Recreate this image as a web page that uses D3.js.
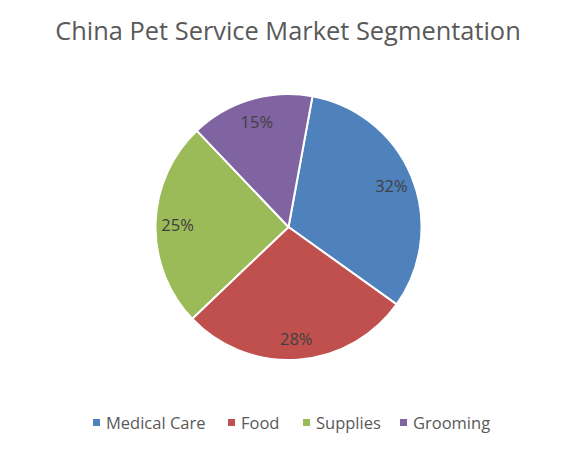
<!DOCTYPE html>
<html><head><meta charset="utf-8">
<script src="https://cdn.jsdelivr.net/npm/d3@7"></script>
<style>body{margin:0;background:#fff;} text{font-family:"Open Sans",sans-serif;}</style>
</head><body>
<svg id="c" width="577" height="452"></svg>
<script>
const categories = ["Medical Care", "Food", "Supplies", "Grooming"];
const values = [32, 28, 25, 15];
const colors = ["#4F81BD", "#C0504D", "#9BBB59", "#8064A2"];
const title = "China Pet Service Market Segmentation";

const svg = d3.select("#c");
const W = 577, H = 452;
svg.append("rect").attr("width", W).attr("height", H).attr("fill", "#fff");

svg.append("text").attr("x", 288).attr("y", 40).attr("text-anchor", "middle")
  .attr("fill", "#595959").attr("font-size", 25.4).text(title);

const cx = 288.5, cy = 227, r = 133;
const startDeg = 10.4;
const pie = d3.pie().sort(null).value(d => d)
  .startAngle(startDeg * Math.PI / 180).endAngle((startDeg + 360) * Math.PI / 180);
const arcs = pie(values);
const arc = d3.arc().innerRadius(0).outerRadius(r);
const labelArc = d3.arc().innerRadius(111).outerRadius(111);
const g = svg.append("g").attr("transform", `translate(${cx},${cy})`);
g.selectAll("path").data(arcs).join("path")
  .attr("d", arc).attr("fill", (d, i) => colors[i])
  .attr("stroke", "#fff").attr("stroke-width", 2).attr("stroke-linejoin", "round");
g.selectAll("text.lbl").data(arcs).join("text").attr("class", "lbl")
  .attr("transform", d => `translate(${labelArc.centroid(d)})`)
  .attr("text-anchor", "middle").attr("dy", "0.42em")
  .attr("fill", "#404040").attr("font-size", 16.5)
  .text(d => d.data + "%");

// legend
const legendX = [93, 228, 303, 400];
const lg = svg.append("g");
categories.forEach((c, i) => {
  lg.append("rect").attr("x", legendX[i]).attr("y", 419).attr("width", 7).attr("height", 7).attr("fill", colors[i]);
  lg.append("text").attr("x", legendX[i] + 13).attr("y", 423).attr("dy", "0.35em")
    .attr("fill", "#595959").attr("font-size", 16.5).text(c);
});
</script>
</body></html>
